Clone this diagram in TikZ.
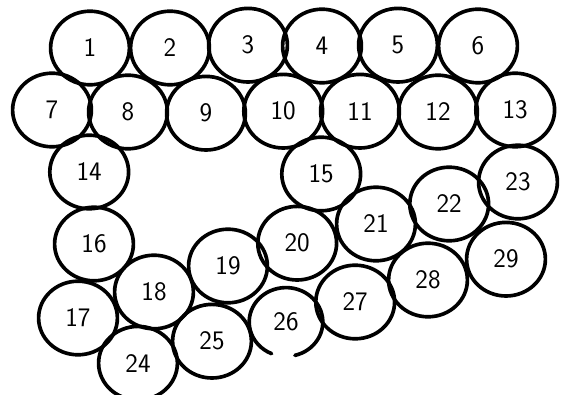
\documentclass[tikz,border=0pt]{standalone}
\usepackage{tikz}
\usetikzlibrary{shapes.geometric}

\begin{document}
\begin{tikzpicture}[
    ball/.style={ellipse, draw=black, line width=2.6pt, minimum width=1.97cm,
                 minimum height=1.84cm, inner sep=0pt,
                 font=\sffamily\fontsize{19}{21}\selectfont},
    openball/.style={ellipse, minimum width=1.84cm, minimum height=1.72cm,
                 inner sep=0pt, font=\sffamily\fontsize{19}{21}\selectfont},
    rim/.style={draw=black, line width=2.6pt, line cap=round}]
    \useasboundingbox (0,0) rectangle (14.025,-9.875);
    % top row
    \node[ball] (n1) at (2.25,-1.20) {1};
    \node[ball] (n2) at (4.25,-1.20) {2};
    \node[ball] (n3) at (6.20,-1.13) {3};
    \node[ball] (n4) at (8.05,-1.15) {4};
    \node[ball] (n5) at (9.95,-1.13) {5};
    \node[ball] (n6) at (11.95,-1.15) {6};
    % second row
    \node[ball] (n7) at (1.30,-2.75) {7};
    \node[ball] (n8) at (3.20,-2.80) {8};
    \node[ball] (n9) at (5.15,-2.83) {9};
    \node[ball] (n10) at (7.08,-2.78) {10};
    \node[ball] (n11) at (9.00,-2.78) {11};
    \node[ball] (n12) at (10.95,-2.80) {12};
    \node[ball] (n13) at (12.88,-2.75) {13};
    % left column and middle
    \node[ball] (n14) at (2.23,-4.30) {14};
    \node[ball] (n15) at (8.03,-4.35) {15};
    \node[ball] (n16) at (2.35,-6.10) {16};
    \node[ball] (n17) at (1.95,-7.95) {17};
    \node[ball] (n18) at (3.85,-7.30) {18};
    \node[ball] (n19) at (5.70,-6.65) {19};
    \node[ball] (n20) at (7.43,-6.08) {20};
    \node[ball] (n21) at (9.40,-5.60) {21};
    \node[ball] (n22) at (11.23,-5.10) {22};
    \node[ball] (n23) at (12.95,-4.55) {23};
    % bottom row
    \node[ball] (n24) at (3.45,-9.08) {24};
    \node[ball] (n25) at (5.30,-8.53) {25};
    \node[openball] (n26) at (7.15,-8.05) {26};
    \node[ball] (n27) at (8.88,-7.55) {27};
    \node[ball] (n28) at (10.70,-7.00) {28};
    \node[ball] (n29) at (12.65,-6.48) {29};
    % 26 is left open at the bottom
    \draw[rim] ([shift={(-76:0.92cm and 0.86cm)}]n26.center)
        arc[start angle=-76, end angle=247, x radius=0.92cm, y radius=0.86cm];
\end{tikzpicture}
\end{document}
